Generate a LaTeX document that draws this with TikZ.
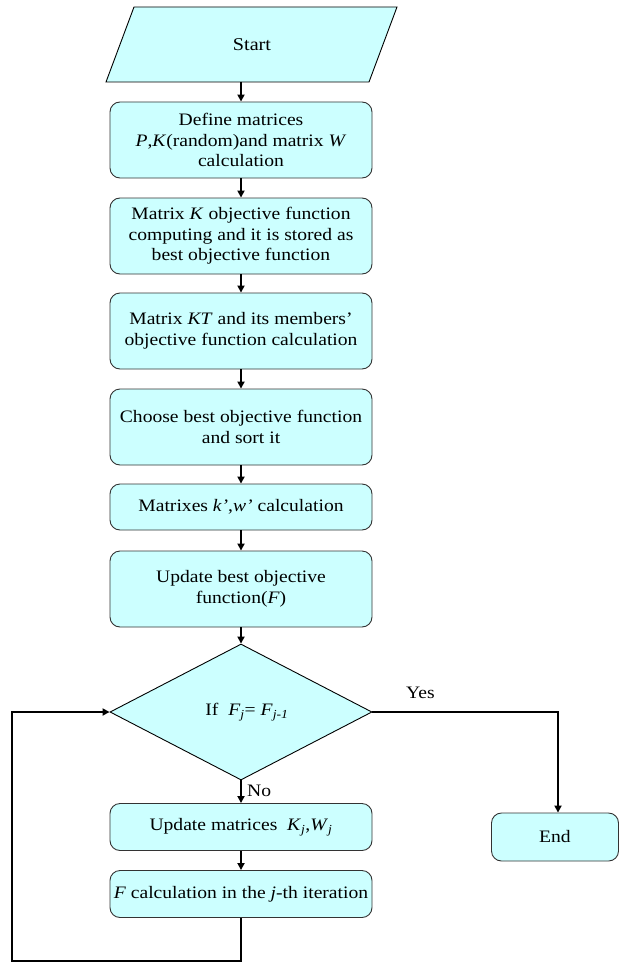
\documentclass[tikz,border=0pt]{standalone}
\usepackage{fontspec}
\setmainfont[FakeStretch=1.12]{Liberation Serif}
\usetikzlibrary{shapes.geometric,arrows.meta}
\definecolor{boxfill}{HTML}{CCFFFF}
\definecolor{boxline}{HTML}{333333}
\tikzset{
  txt/.style={font=\fontsize{17.5}{20.5}\selectfont},
  box/.style={txt, draw=boxline, line width=0.9pt, fill=boxfill, rounded corners=10pt,
    minimum width=262pt, inner sep=2pt, align=center},
  endbox/.style={box, minimum width=127pt, minimum height=48pt},
  dec/.style={txt, draw=black, line width=0.9pt, fill=boxfill, shape=diamond, inner sep=0pt,
    minimum width=262pt, minimum height=136pt},
  arr/.style={line width=1.7pt, -{Triangle[length=7pt,width=7pt]}},
  lab/.style={txt, inner sep=0pt}
}
\begin{document}
\begin{tikzpicture}[x=1pt,y=-1pt]
\useasboundingbox (0,0) rectangle (619,963);
% Start parallelogram
\filldraw[draw=black, line width=0.9pt, fill=boxfill] (134,7) -- (397,7) -- (369,82) -- (106,82) -- cycle;
\node[lab, font=\fontsize{18}{21}\selectfont] (start) at (252,45) {Start};
\coordinate (startb) at (241,82);
\node[box, minimum height=76pt] (b1) at (241,140) {Define matrices\\\textit{P},\textit{K}(random)and matrix \textit{W}\\calculation};
\node[box, minimum height=76pt] (b2) at (241,236) {Matrix \textit{K} objective function\\computing and it is stored as\\best objective function};
\node[box, minimum height=76pt] (b3) at (241,331) {Matrix \textit{KT} and its members’\\objective function calculation};
\node[box, minimum height=76pt] (b4) at (241,427) {Choose best objective function\\and sort it};
\node[box, minimum height=46pt] (b5) at (241,507) {Matrixes \textit{k’},\textit{w’} calculation};
\node[box, minimum height=76pt] (b6) at (241,589) {Update best objective\\function(\textit{F})};
\node[dec] (d) at (241,712) {\hspace*{12pt}If\ \ \textit{F}\textsubscript{\textit{j}}= \textit{F}\textsubscript{\textit{j-1}}};
\node[box, minimum height=47pt] (b7) at (241,827) {Update matrices\ \ \textit{K}\textsubscript{\textit{j}},\textit{W}\textsubscript{\textit{j}}};
\node[box, minimum height=47pt] (b8) at (241,894) {\textit{F} calculation in the \textit{j}-th iteration};
\node[endbox] (e) at (555,837) {End};
\coordinate (c1) at (241,961);
\coordinate (c2) at (12,961);
\coordinate (c3) at (12,712);
\coordinate (c4) at (558,712);
% connectors
\draw[arr] (startb) -- (b1.north);
\draw[arr] (b1) -- (b2);
\draw[arr] (b2) -- (b3);
\draw[arr] (b3) -- (b4);
\draw[arr] (b4) -- (b5);
\draw[arr] (b5) -- (b6);
\draw[arr] (b6) -- (d.north);
\draw[arr] (d.south) -- (b7.north);
\draw[arr] (b7) -- (b8);
\draw[arr] (d.east) -- (c4) -- (e.north -| c4);
\draw[arr] (b8.south) -- (c1) -- (c2) -- (c3) -- (d.west);
\node[lab, anchor=west] (yes) at (406,693) {Yes};
\node[lab, anchor=west] (no) at (247,791) {No};
\end{tikzpicture}
\end{document}
